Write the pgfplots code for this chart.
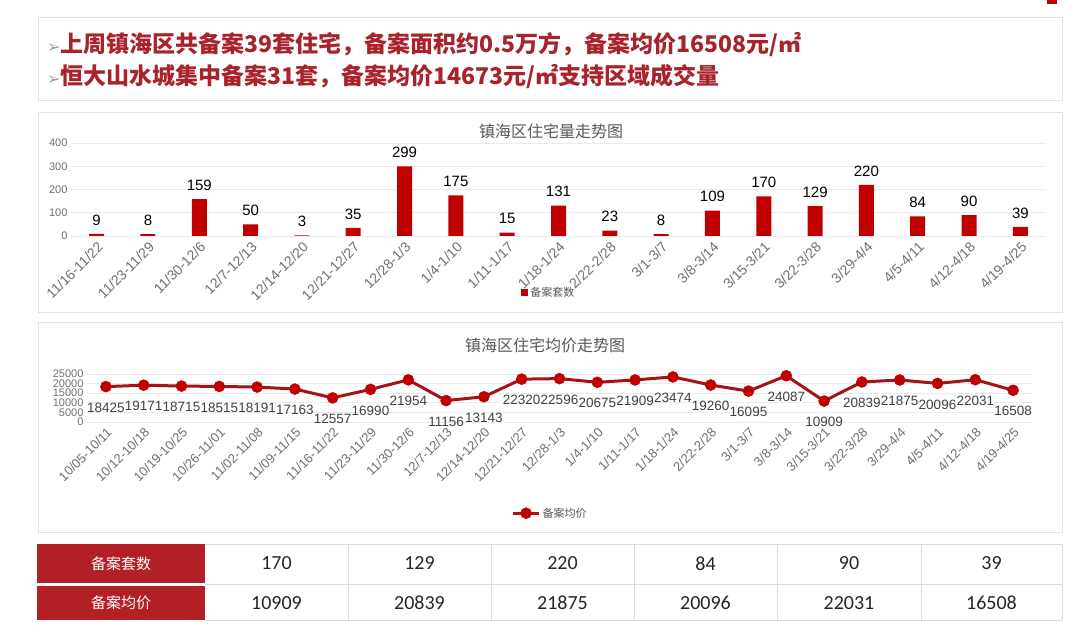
\documentclass[border=0pt]{standalone}
\usepackage{fontspec}
\setmainfont{Liberation Sans}
\newfontfamily\cjk{Noto Sans CJK SC}
\newfontfamily\carl{Carlito}
\newfontfamily\dv{DejaVu Sans}
\usepackage{pgfplots}
\pgfplotsset{compat=1.18}
\definecolor{barred}{HTML}{C00000}
\definecolor{linered}{HTML}{A31515}
\definecolor{headred}{HTML}{A8232B}
\definecolor{tabred}{HTML}{B21F24}
\definecolor{txtgray}{HTML}{595959}
\definecolor{ticklight}{HTML}{707070}
\definecolor{gridgray}{HTML}{EBEBEB}
\definecolor{boxgray}{HTML}{E3E3E3}

\pgfplotsset{
  xlsaxis/.style={
    anchor=south west, scale only axis,
    ymajorgrids, grid style={gridgray, line width=0.8pt},
    axis line style={draw=none}, major tick length=0pt,
    xtick=data, clip=false,
    xticklabel style={rotate=45, anchor=north east, text=ticklight},
    yticklabel style={font=\fontsize{11}{11}\selectfont, text=ticklight},
    /pgf/number format/assume math mode=true,
    /pgf/number format/1000 sep={},
    scaled y ticks=false,
    legend style={anchor=center, draw=none, fill=none, font=\cjk\fontsize{11}{11}\selectfont, text=txtgray},
  }
}

\begin{document}
\begin{tikzpicture}[x=1pt,y=1pt]
\path[fill=white, use as bounding box] (0,0) rectangle (1080,635);
\fill[barred] (1047,631) rectangle (1057,635);

% header box
\draw[boxgray] (38,535) rectangle (1062,618);
\node[anchor=west, text=headred, font=\cjk\bfseries\fontsize{23}{23}\selectfont, inner sep=0pt] at (47,590)
  {{\dv\mdseries\color{gray!80}\fontsize{16}{16}\selectfont ➢}上周镇海区共备案39套住宅，备案面积约0.5万方，备案均价16508元/㎡};
\node[anchor=west, text=headred, font=\cjk\bfseries\fontsize{23}{23}\selectfont, inner sep=0pt] at (47,558)
  {{\dv\mdseries\color{gray!80}\fontsize{16}{16}\selectfont ➢}恒大山水城集中备案31套，备案均价14673元/㎡支持区域成交量};

% chart 1
\draw[boxgray] (38,323) rectangle (1062,523);
\node[font=\cjk\fontsize{16}{16}\selectfont, text=txtgray] at (551,504) {镇海区住宅量走势图};
\begin{axis}[xlsaxis,
  at={(71pt,399pt)}, width=975pt, height=93pt,
  xmin=-0.5, xmax=18.5, ymin=0, ymax=400, ytick={0,100,...,400},
  xticklabels={11/16-11/22,11/23-11/29,11/30-12/6,12/7-12/13,12/14-12/20,12/21-12/27,12/28-1/3,1/4-1/10,1/11-1/17,1/18-1/24,2/22-2/28,3/1-3/7,3/8-3/14,3/15-3/21,3/22-3/28,3/29-4/4,4/5-4/11,4/12-4/18,4/19-4/25},
  xticklabel style={font=\fontsize{14}{14}\selectfont},
  ybar, bar width=15pt,
  nodes near coords,
  nodes near coords style={font=\fontsize{15}{15}\selectfont, text=black, yshift=5pt},
  legend style={at={(0.49,-0.61)}},
  legend image code/.code={\fill[barred] (0pt,-3.5pt) rectangle (7pt,3.5pt);},
]
\addplot[fill=barred, draw=none] coordinates {
  (0,9) (1,8) (2,159) (3,50) (4,3) (5,35) (6,299) (7,175) (8,15) (9,131)
  (10,23) (11,8) (12,109) (13,170) (14,129) (15,220) (16,84) (17,90) (18,39)
};
\addlegendentry{备案套数}
\end{axis}

% chart 2
\draw[boxgray] (38,103) rectangle (1062,313);
\node[font=\cjk\fontsize{16}{16}\selectfont, text=txtgray] at (545,290) {镇海区住宅均价走势图};
\begin{axis}[xlsaxis,
  at={(87pt,213pt)}, width=945pt, height=48pt,
  xmin=-0.5, xmax=24.5, ymin=0, ymax=25000, ytick={0,5000,...,25000},
  xticklabels={10/05-10/11,10/12-10/18,10/19-10/25,10/26-11/01,11/02-11/08,11/09-11/15,11/16-11/22,11/23-11/29,11/30-12/6,12/7-12/13,12/14-12/20,12/21-12/27,12/28-1/3,1/4-1/10,1/11-1/17,1/18-1/24,2/22-2/28,3/1-3/7,3/8-3/14,3/15-3/21,3/22-3/28,3/29-4/4,4/5-4/11,4/12-4/18,4/19-4/25},
  xticklabel style={font=\fontsize{13}{13}\selectfont},
  nodes near coords, nodes near coords align={below},
  nodes near coords style={font=\fontsize{13.5}{13.5}\selectfont, text=black!75, yshift=-16pt, inner sep=0pt},
  legend style={at={(0.49,-1.9)}},
  legend image code/.code={\draw[mark repeat=2, mark phase=2, #1] plot coordinates {(0pt,0pt) (13pt,0pt) (26pt,0pt)};},
]
\addplot[linered, line width=3pt, mark=*, mark size=5.5pt, mark options={fill=barred, draw=barred, line width=0.5pt}] coordinates {
  (0,18425) (1,19171) (2,18715) (3,18515) (4,18191) (5,17163) (6,12557) (7,16990)
  (8,21954) (9,11156) (10,13143) (11,22320) (12,22596) (13,20675) (14,21909)
  (15,23474) (16,19260) (17,16095) (18,24087) (19,10909) (20,20839) (21,21875)
  (22,20096) (23,22031) (24,16508)
};
\addlegendentry{备案均价}
\end{axis}

% table
\fill[tabred] (37,52) rectangle (205,91);
\fill[tabred] (37,15) rectangle (205,49);
\draw[black!14] (205,91) -- (1062,91) (205,50.5) -- (1062,50.5) (205,15) -- (1062,15);
\foreach \x in {348,491,634,777,921,1062} \draw[black!14] (\x,15) -- (\x,91);
\node[text=white, font=\cjk\fontsize{15}{15}\selectfont] at (121,71.5) {备案套数};
\node[text=white, font=\cjk\fontsize{15}{15}\selectfont] at (121,32) {备案均价};
\foreach \cx/\a/\b in {276.5/170/10909, 419.5/129/20839, 562.5/220/21875, 705.5/84/20096, 849/90/22031, 991.5/39/16508} {
  \node[font=\carl\fontsize{20}{20}\selectfont, text=black!85] at (\cx,71.5) {\a};
  \node[font=\carl\fontsize{20}{20}\selectfont, text=black!85] at (\cx,32) {\b};
}
\end{tikzpicture}
\end{document}
